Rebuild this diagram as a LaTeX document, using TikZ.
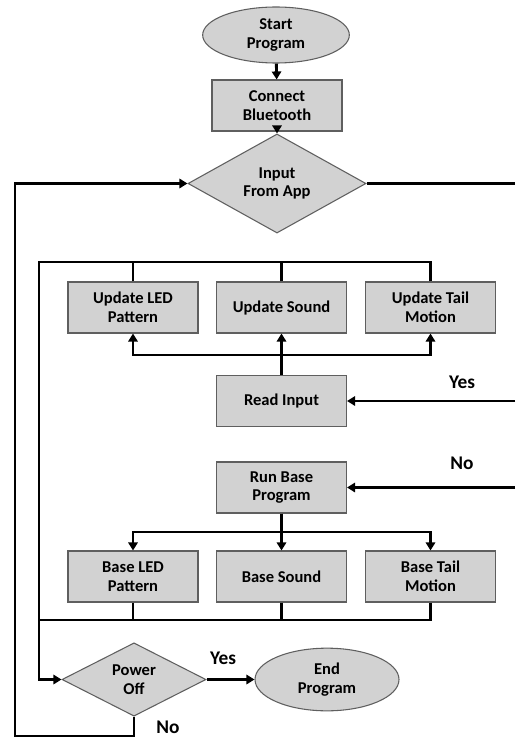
\documentclass[tikz,border=0pt]{standalone}
\usepackage{fontspec}
\setmainfont{Carlito}
\usetikzlibrary{shapes,arrows.meta}
\definecolor{box_fill}{RGB}{210, 210, 210}
\definecolor{box_line}{RGB}{95, 95, 95}
\tikzstyle{proc}=[rectangle,fill=box_fill,draw=box_line,line width=0.8pt,
  align=center,font=\fontsize{12.4}{14}\selectfont\bfseries,
  minimum width=97.5pt,minimum height=38.25pt,inner sep=2pt]
\tikzstyle{term}=[ellipse,fill=box_fill,draw=box_line,line width=0.8pt,
  align=center,font=\fontsize{12.4}{14}\selectfont\bfseries,
  minimum width=110pt,minimum height=42pt,inner sep=0pt]
\tikzstyle{dec}=[diamond,fill=box_fill,draw=box_line,line width=0.8pt,
  align=center,font=\fontsize{12.4}{14}\selectfont\bfseries,
  minimum width=133.5pt,minimum height=55pt,inner sep=0pt]
\tikzstyle{wire}=[line width=2.2pt,line join=miter]
\tikzstyle{arr}=[wire,-{Triangle[length=6pt,width=7pt]}]
\tikzstyle{lbl}=[font=\fontsize{14.5}{16}\selectfont\bfseries,inner sep=0pt]

\begin{document}
\begin{tikzpicture}[x=0.75pt,y=-0.75pt]
    \useasboundingbox (0,0) rectangle (515,738);
    \node [style=term] (start) at (276,35) {Start\\Program};
    \node [style=proc] (conn) at (277,105.5) {Connect\\Bluetooth};
    \node [style=dec] (inp) at (277,183.5) {Input\\From App};
    \node [style=proc] (uled) at (133,307.5) {Update LED\\Pattern};
    \node [style=proc] (usnd) at (281.5,307.5) {Update Sound};
    \node [style=proc] (utail) at (430.5,307.5) {Update Tail\\Motion};
    \node [style=proc] (read) at (281.5,401) {Read Input};
    \node [style=proc] (run) at (281.5,487.5) {Run Base\\Program};
    \node [style=proc] (bled) at (133,576.5) {Base LED\\Pattern};
    \node [style=proc] (bsnd) at (281.5,576.5) {Base Sound};
    \node [style=proc] (btail) at (430.5,576.5) {Base Tail\\Motion};
    \node [style=dec, minimum width=108pt] (pwr) at (134,679.5) {Power\\Off};
    \node [style=term, minimum width=108pt, minimum height=47pt] (end) at (327,679.5) {End\\Program};
    \coordinate (ri) at (515,183.5);
    \coordinate (ry) at (515,401);
    \coordinate (rn) at (515,487.5);
    \coordinate (tl) at (39,262);
    \coordinate (rb) at (281.5,355);
    \coordinate (sb) at (281.5,532);
    \coordinate (bb) at (39,620);
    \coordinate (bl) at (15,736);
    \node [style=lbl] (yes1) at (462,382) {Yes};
    \node [style=lbl] (no1) at (462,463) {No};
    \node [style=lbl] (yes2) at (223,658) {Yes};
    \node [style=lbl] (no2) at (168,727) {No};
    \draw [style=arr] (start) to (conn);
    \draw [style=arr] (conn) to (inp);
    \draw [style=wire] (inp.east) to (ri);
    \draw [style=arr] (ry) to (read.east);
    \draw [style=arr] (rn) to (run.east);
    \draw [style=arr] (read) to (usnd);
    \draw [style=arr] (read.north) |- (rb) -| (uled.south);
    \draw [style=arr] (rb) -| (utail.south);
    \draw [style=wire] (uled.north) to (uled.north |- tl);
    \draw [style=wire] (usnd.north) to (usnd.north |- tl);
    \draw [style=arr] (utail.north) |- (tl) |- (pwr.west);
    \draw [style=arr] (run) to (bsnd);
    \draw [style=arr] (run.south) |- (sb) -| (bled.north);
    \draw [style=arr] (sb) -| (btail.north);
    \draw [style=wire] (bled.south) to (bled.south |- bb);
    \draw [style=wire] (bsnd.south) to (bsnd.south |- bb);
    \draw [style=wire] (btail.south) |- (bb);
    \draw [style=arr] (pwr) to (end);
    \draw [style=arr] (pwr.south) |- (bl) |- (inp.west);
\end{tikzpicture}
\end{document}
